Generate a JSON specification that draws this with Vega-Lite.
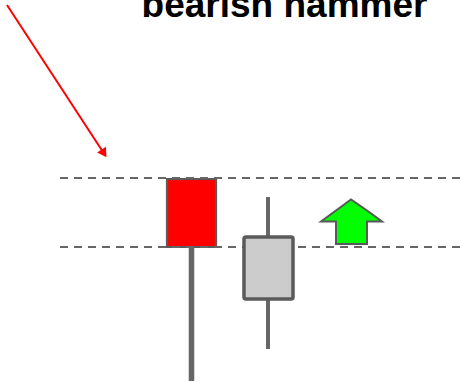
{
  "$schema": "https://vega.github.io/schema/vega-lite/v6.json",
  "width": 461,
  "height": 382,
  "autosize": "none",
  "padding": 0,
  "background": "white",
  "view": {"stroke": null},
  "datasets": {
    "levels": [{"y": 178, "x0": 60, "x1": 461}, {"y": 247, "x0": 60, "x1": 461}],
    "bearish": [{"name": "bearish", "x0": 167, "x1": 216, "y0": 179, "y1": 247}],
    "next": [{"name": "next", "x0": 244, "x1": 293, "y0": 237, "y1": 299}],
    "wicks": [
      {"name": "bearish", "x": 191.5, "y0": 247, "y1": 381, "w": 5.5},
      {"name": "next-upper", "x": 268, "y0": 197, "y1": 237, "w": 4},
      {"name": "next-lower", "x": 268, "y0": 299, "y1": 349, "w": 4}
    ],
    "pointer": [{"x0": 7, "y0": 5, "x1": 103, "y1": 152, "hx": 104, "hy": 153.5}],
    "uparrow": [
      {"x": 321, "y": 221.5, "y2": 221.5},
      {"x": 336, "y": 210.5, "y2": 221.5},
      {"x": 336.01, "y": 210.5, "y2": 244},
      {"x": 351, "y": 199.5, "y2": 244},
      {"x": 366.99, "y": 210.5, "y2": 244},
      {"x": 367, "y": 210.5, "y2": 221.5},
      {"x": 382, "y": 221.5, "y2": 221.5}
    ],
    "title": [{"x": 284.5, "y": 17, "label": "bearish hammer"}]
  },
  "layer": [
    {
      "data": {"name": "wicks"},
      "mark": {"type": "rule", "color": "#666666"},
      "encoding": {
        "x": {"field": "x", "type": "quantitative", "scale": {"domain": [0, 461], "nice": false, "zero": false}, "axis": null},
        "y": {"field": "y0", "type": "quantitative", "scale": {"domain": [0, 382], "nice": false, "zero": false, "reverse": true}, "axis": null},
        "y2": {"field": "y1"},
        "strokeWidth": {"field": "w", "type": "quantitative", "scale": null}
      }
    },
    {
      "data": {"name": "bearish"},
      "mark": {"type": "rect", "stroke": "#5a5a5a", "strokeWidth": 2.2, "fill": "#ff0000"},
      "encoding": {
        "x": {"field": "x0", "type": "quantitative"},
        "x2": {"field": "x1"},
        "y": {"field": "y0", "type": "quantitative"},
        "y2": {"field": "y1"}
      }
    },
    {
      "data": {"name": "levels"},
      "mark": {"type": "rule", "color": "#666666", "strokeWidth": 2, "strokeDash": [8, 6]},
      "encoding": {
        "x": {"field": "x0", "type": "quantitative"},
        "x2": {"field": "x1"},
        "y": {"field": "y", "type": "quantitative"}
      }
    },
    {
      "data": {"name": "next"},
      "mark": {"type": "rect", "stroke": "#5a5a5a", "strokeWidth": 3.5, "fill": "#cccccc", "cornerRadius": 2},
      "encoding": {
        "x": {"field": "x0", "type": "quantitative"},
        "x2": {"field": "x1"},
        "y": {"field": "y0", "type": "quantitative"},
        "y2": {"field": "y1"}
      }
    },
    {
      "data": {"name": "uparrow"},
      "mark": {"type": "area", "fill": "#00ff00", "stroke": "#595959", "strokeWidth": 2, "fillOpacity": 1, "opacity": 1},
      "encoding": {
        "x": {"field": "x", "type": "quantitative"},
        "y": {"field": "y", "type": "quantitative"},
        "y2": {"field": "y2"}
      }
    },
    {
      "data": {"name": "pointer"},
      "mark": {"type": "rule", "color": "#ff0000", "strokeWidth": 2},
      "encoding": {
        "x": {"field": "x0", "type": "quantitative"},
        "x2": {"field": "x1"},
        "y": {"field": "y0", "type": "quantitative"},
        "y2": {"field": "y1"}
      }
    },
    {
      "data": {"name": "pointer"},
      "mark": {"type": "point", "shape": "triangle-down", "filled": true, "color": "#ff0000", "size": 110, "opacity": 1, "angle": 327},
      "encoding": {
        "x": {"field": "hx", "type": "quantitative"},
        "y": {"field": "hy", "type": "quantitative"}
      }
    },
    {
      "data": {"name": "title"},
      "mark": {"type": "text", "font": "Liberation Sans", "fontWeight": "bold", "fontSize": 37, "baseline": "alphabetic", "align": "center", "color": "#000000"},
      "encoding": {
        "x": {"field": "x", "type": "quantitative"},
        "y": {"field": "y", "type": "quantitative"},
        "text": {"field": "label", "type": "nominal"}
      }
    }
  ]
}
